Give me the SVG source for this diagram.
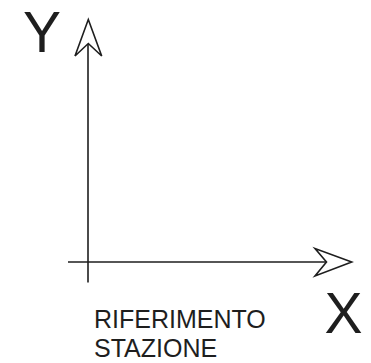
<svg xmlns="http://www.w3.org/2000/svg" width="371" height="363" viewBox="0 0 371 363">
<style>
.ax{fill:none;stroke:#1e1e1e;stroke-width:1.6;stroke-linejoin:miter}
.hd{fill:#fff;stroke:#1e1e1e;stroke-width:1.6;stroke-linejoin:miter}
text{font-family:"Liberation Sans",Arial,sans-serif;fill:#1e1e1e}
.big{font-size:57px}
.lbl{font-size:25px}
</style>
<rect width="371" height="363" fill="#fff"/>
<g id="connectors">
<line class="ax" x1="88" y1="44" x2="88" y2="282.5"/>
<line class="ax" x1="68" y1="262" x2="327" y2="262"/>
</g>
<g id="y-axis-arrow">
<polygon class="hd" points="88.3,19.5 101.7,56 88.3,43.5 75,56"/>
</g>
<g id="x-axis-arrow">
<polygon class="hd" points="351.7,262 315,248.5 326.5,262 315,276"/>
</g>
<g id="label-y"><text class="big" x="23" y="52">Y</text></g>
<g id="label-x"><text class="big" x="324.5" y="333">X</text></g>
<g id="label-riferimento">
<text class="lbl" x="94" y="327.5">RIFERIMENTO</text>
<text class="lbl" x="94" y="357">STAZIONE</text>
</g>
</svg>
